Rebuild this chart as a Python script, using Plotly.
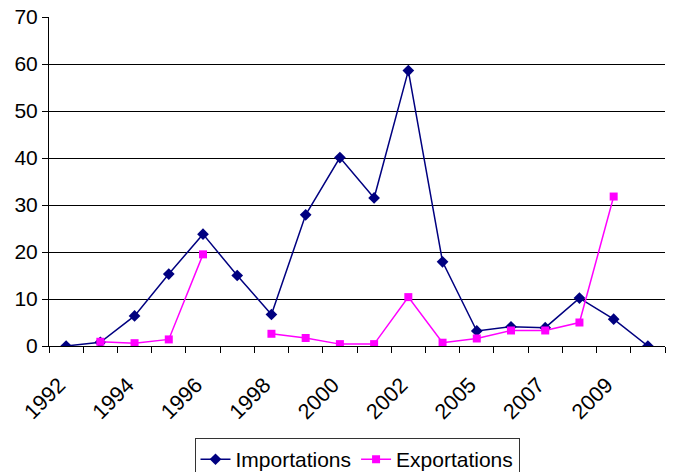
import plotly.graph_objects as go

years = ["1992", "1993", "1994", "1995", "1996", "1997", "1998", "1999", "2000",
         "2001", "2002", "2003", "2005", "2006", "2007", "2008", "2009", "2010"]
importations = [0, 0.8, 6.4, 15.3, 23.8, 15.0, 6.7, 27.9, 40.1, 31.5, 58.6,
                17.9, 3.2, 4.1, 3.9, 10.2, 5.7, 0]
exportations = [None, 0.9, 0.6, 1.4, 19.5, None, 2.6, 1.7, 0.4, 0.4, 10.4,
                 0.7, 1.6, 3.3, 3.3, 5.0, 31.8, None]
tick_text = [y if i % 2 == 0 else "" for i, y in enumerate(years)]

FONT = "Liberation Sans, Arial, sans-serif"

fig = go.Figure()
fig.add_trace(go.Scatter(
    x=years, y=importations, name="Importations", mode="lines+markers",
    line=dict(color="#000080", width=1.5),
    marker=dict(symbol="diamond", size=9, color="#000080"),
))
fig.add_trace(go.Scatter(
    x=years, y=exportations, name="Exportations", mode="lines+markers",
    connectgaps=False,
    line=dict(color="#FF00FF", width=1.5),
    marker=dict(symbol="square", size=8, color="#FF00FF"),
))

fig.update_layout(
    width=674, height=472,
    margin=dict(l=49, r=9, t=17, b=126, autoexpand=False),
    paper_bgcolor="white", plot_bgcolor="white",
    font=dict(family=FONT, size=21, color="black"),
    showlegend=True,
    legend=dict(orientation="h", x=0.5, xanchor="center", y=-0.28, yanchor="top",
                bordercolor="#333333", borderwidth=1, font=dict(size=21),
                itemwidth=30, tracegroupgap=0),
    xaxis=dict(
        type="category", categoryorder="array", categoryarray=years,
        range=[-0.5, len(years) - 0.5], automargin=False,
        tickmode="array", tickvals=years, ticktext=tick_text,
        tickson="boundaries", ticks="outside", ticklen=6, tickcolor="black",
        tickangle=-45, ticklabelstandoff=17, ticklabelshift=-7,
        showgrid=False, zeroline=False,
        showline=True, linecolor="black", linewidth=1,
        tickfont=dict(size=21.5),
    ),
    yaxis=dict(
        range=[0, 70], dtick=10, tick0=0, automargin=False,
        ticks="outside", ticklen=6, tickcolor="black",
        showgrid=True, gridcolor="black", gridwidth=1,
        zeroline=False, showline=True, linecolor="black", linewidth=1,
        tickfont=dict(size=21),
    ),
)

fig.write_html(
    "out.html",
    config={"displayModeBar": False},
    post_script="document.body.style.margin='0';document.body.style.overflow='hidden';",
)
